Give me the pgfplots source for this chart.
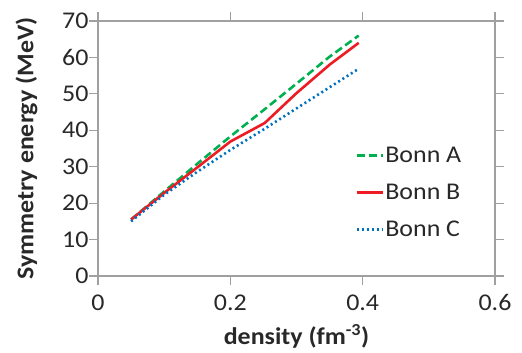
\documentclass[border=0pt]{standalone}
\usepackage{pgfplots}
\pgfplotsset{compat=1.18}
\usepackage{fontspec}
\setmainfont{Carlito}[FakeStretch=1.08]
\definecolor{cA}{RGB}{0,176,80}
\definecolor{cB}{RGB}{237,28,36}
\definecolor{cC}{RGB}{0,112,192}
\definecolor{axgray}{RGB}{160,160,160}
\definecolor{txt}{RGB}{40,40,40}
\begin{document}
\begin{tikzpicture}
\begin{axis}[
  scale only axis,
  width=397pt, height=255pt,
  xmin=0, xmax=0.6, ymin=0, ymax=70,
  xtick={0,0.2,0.4,0.6}, ytick={0,10,...,70},
  xticklabels={0,0.2,0.4,0.6},
  /pgf/number format/assume math mode=true,
  tick label style={font=\fontsize{24}{27}\selectfont, text=txt},
  axis line style={axgray, line width=1.2pt},
  tick style={axgray, line width=1.2pt},
  tick align=outside, major tick length=9pt,
  xticklabel style={yshift=-6pt},
  yticklabel style={xshift=3pt},
  xlabel={\textbf{density (fm\textsuperscript{-3})}},
  ylabel={\textbf{Symmetry energy (MeV)}},
  label style={font=\fontsize{24}{27}\selectfont, text=txt},
  xlabel style={yshift=-7pt},
  ylabel style={yshift=18pt},
  legend style={draw=none, fill=none, font=\fontsize{24}{27}\selectfont, text=txt, at={(0.64,0.52)}, anchor=north west, row sep=17pt, nodes={inner sep=1.5pt}},
  legend cell align=left,
  legend image code/.code={\draw[#1] (0pt,0pt) -- (26pt,0pt);},
]
\addplot[cA, line width=2.6pt, dash pattern=on 8pt off 4pt] coordinates {
(0.05,15.5) (0.1,23.2) (0.15,30.8) (0.2,38.3) (0.25,45.5) (0.3,52.8) (0.35,60.2) (0.394,66.0)};
\addlegendentry{Bonn A}
\addplot[cB, line width=2.6pt] coordinates {
(0.05,15.5) (0.1,22.8) (0.15,29.8) (0.2,36.9) (0.252,42.0) (0.3,50.2) (0.35,58.0) (0.394,64.0)};
\addlegendentry{Bonn B}
\addplot[cC, line width=2.6pt, dash pattern=on 2pt off 3pt] coordinates {
(0.05,15.0) (0.1,22.3) (0.15,28.6) (0.2,34.6) (0.25,40.2) (0.3,46.0) (0.35,51.8) (0.394,56.9)};
\addlegendentry{Bonn C}
\coordinate (LL) at (rel axis cs:0,0);
\coordinate (UR) at (rel axis cs:1,1);
\end{axis}
\pgfresetboundingbox
\path ([shift={(-98pt,-76pt)}]LL) rectangle ([shift={(27pt,21pt)}]UR);
\end{tikzpicture}
\end{document}
